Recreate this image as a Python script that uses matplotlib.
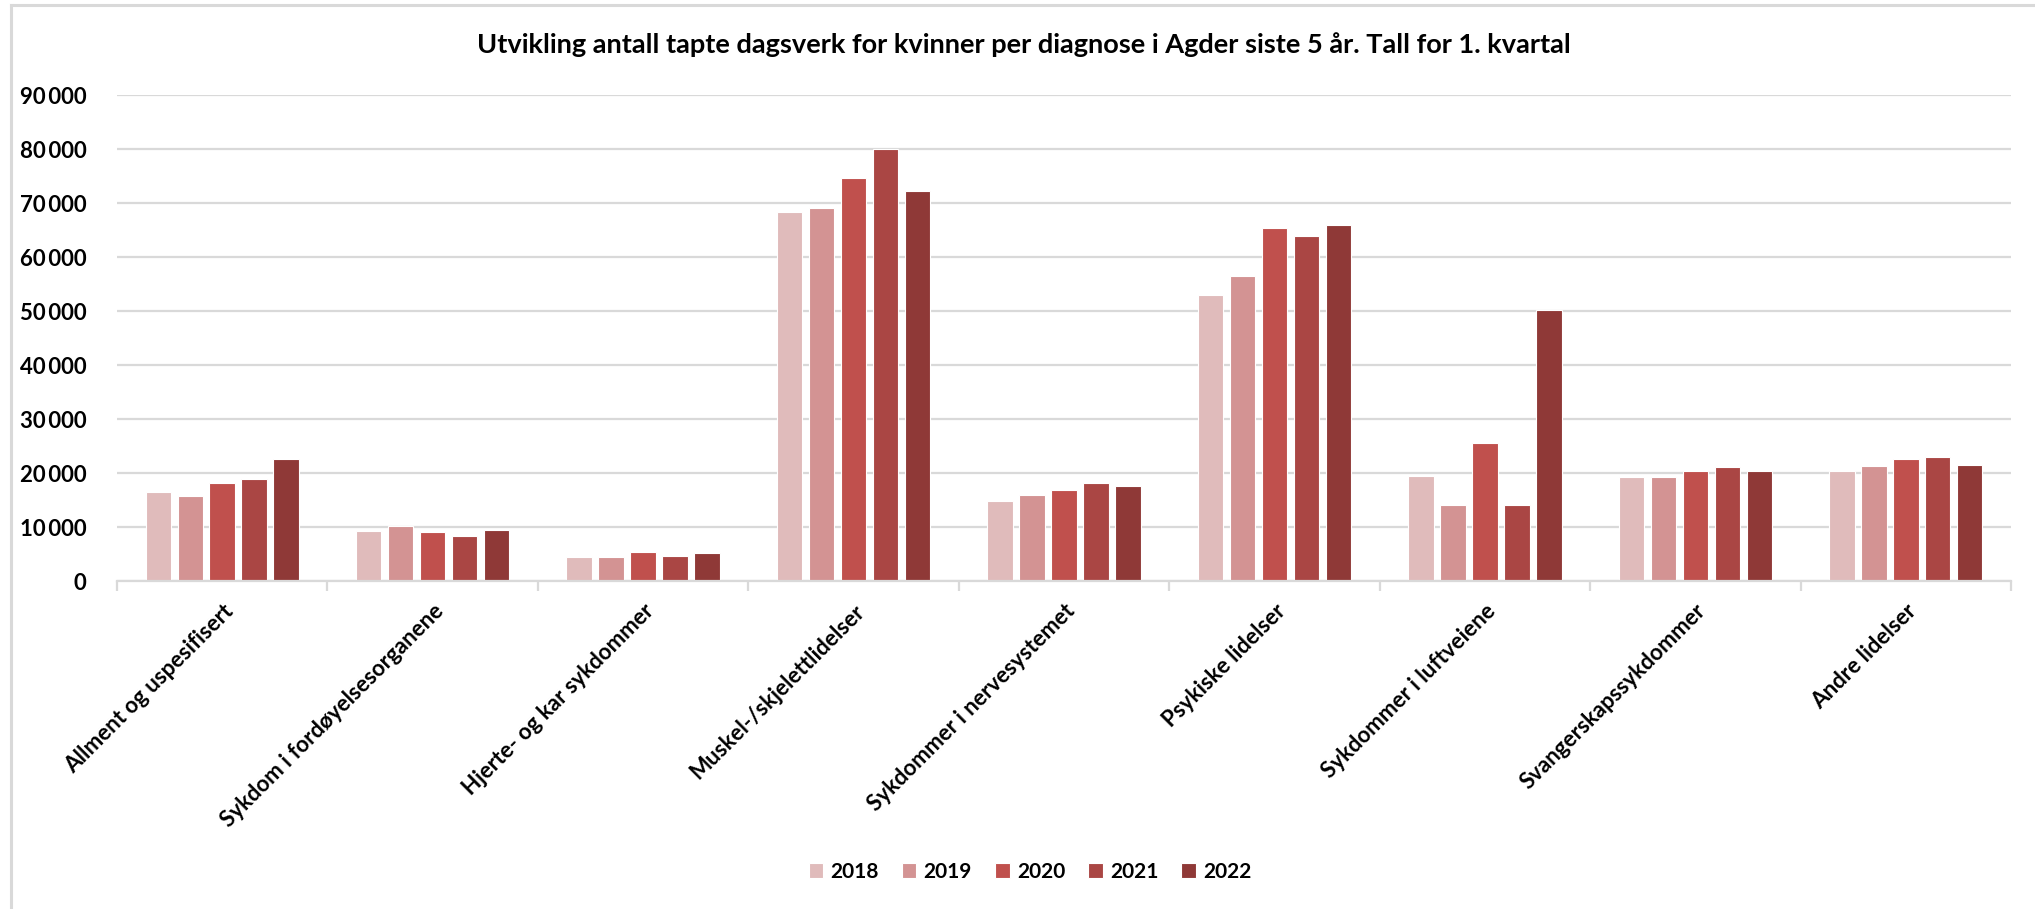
import matplotlib
matplotlib.use("Agg")
import matplotlib.pyplot as plt
from matplotlib.lines import Line2D
from matplotlib.ticker import FuncFormatter, FixedLocator
import numpy as np

plt.rcParams['font.family'] = ['Lato', 'DejaVu Sans']

title = "Utvikling antall tapte dagsverk for kvinner per diagnose i Agder siste 5 år. Tall for 1. kvartal"
categories = ["Allment og uspesifisert", "Sykdom i fordøyelsesorganene", "Hjerte- og kar sykdommer",
              "Muskel-/skjelettlidelser", "Sykdommer i nervesystemet", "Psykiske lidelser",
              "Sykdommer i luftveiene", "Svangerskapssykdommer", "Andre lidelser"]
years = ["2018", "2019", "2020", "2021", "2022"]
v2018 = [16400, 9300, 4400, 68400, 14800, 52900, 19500, 19200, 20400]
v2019 = [15700, 10250, 4400, 69100, 16000, 56500, 14000, 19200, 21300]
v2020 = [18100, 9100, 5300, 74600, 16900, 65300, 25600, 20400, 22600]
v2021 = [18850, 8400, 4600, 80000, 18100, 63900, 14000, 21100, 23050]
v2022 = [22600, 9400, 5100, 72200, 17600, 66000, 50100, 20400, 21400]
series = [v2018, v2019, v2020, v2021, v2022]
colors = ["#E0BBBB", "#D39393", "#C0504D", "#AA4644", "#8F3937"]
yticks = list(range(0, 90001, 10000))

W, H = 2035, 909
fig = plt.figure(figsize=(W / 100, H / 100), dpi=100)
ax = fig.add_axes([117 / W, 1 - 581 / H, (2011 - 117) / W, (581 - 95) / H])

x = np.arange(len(categories))
pitch = 0.152
bw = 0.121
for i, (vals, c, yr) in enumerate(zip(series, colors, years)):
    ax.bar(x + (i - 2) * pitch, vals, width=bw, color=c, edgecolor="white",
           linewidth=0.8, label=yr, zorder=3)

ax.set_xlim(-0.5, len(categories) - 0.5)
ax.set_ylim(0, 90000)
ax.yaxis.set_major_locator(FixedLocator(yticks))
ax.yaxis.set_major_formatter(FuncFormatter(lambda v, p: f"{int(v):,}".replace(",", "\u2009")))
ax.grid(axis="y", color="#D9D9D9", linewidth=1.6, zorder=0)
for s in ["top", "right", "left"]:
    ax.spines[s].set_visible(False)
ax.spines["bottom"].set_color("#D9D9D9")
ax.spines["bottom"].set_linewidth(1.6)
ax.spines["bottom"].set_zorder(4)

ax.set_xticks(x)
ax.set_xticklabels(categories, rotation=45, ha="right", va="top", rotation_mode="anchor",
                   fontsize=16, fontweight="bold")
ax.set_xticks(np.arange(-0.5, len(categories), 1.0), minor=True)
ax.tick_params(axis="x", which="major", length=0, pad=14)
ax.tick_params(axis="x", which="minor", length=7, width=1.6, color="#D9D9D9")
ax.tick_params(axis="y", length=0, pad=22, labelsize=16)
for lab in ax.get_yticklabels():
    lab.set_fontweight("bold")

fig.text(0.503, 1 - 45 / H, title, ha="center", va="center", fontsize=19.5, fontweight="bold")

leg = fig.legend(loc="center", bbox_to_anchor=(1030 / W, 1 - 872 / H), ncol=5, frameon=False,
                 handlelength=0.7, handleheight=0.7, handletextpad=0.35, columnspacing=1.1,
                 prop={"weight": "bold", "size": 15})

fig.add_artist(Line2D([11 / W, 11 / W], [0, 1 - 5 / H], color="#D9D9D9", linewidth=2.2,
                      transform=fig.transFigure))
fig.add_artist(Line2D([11 / W, 1], [1 - 5 / H, 1 - 5 / H], color="#D9D9D9", linewidth=2.2,
                      transform=fig.transFigure))

fig.savefig("out.png", dpi=100, facecolor="white")
